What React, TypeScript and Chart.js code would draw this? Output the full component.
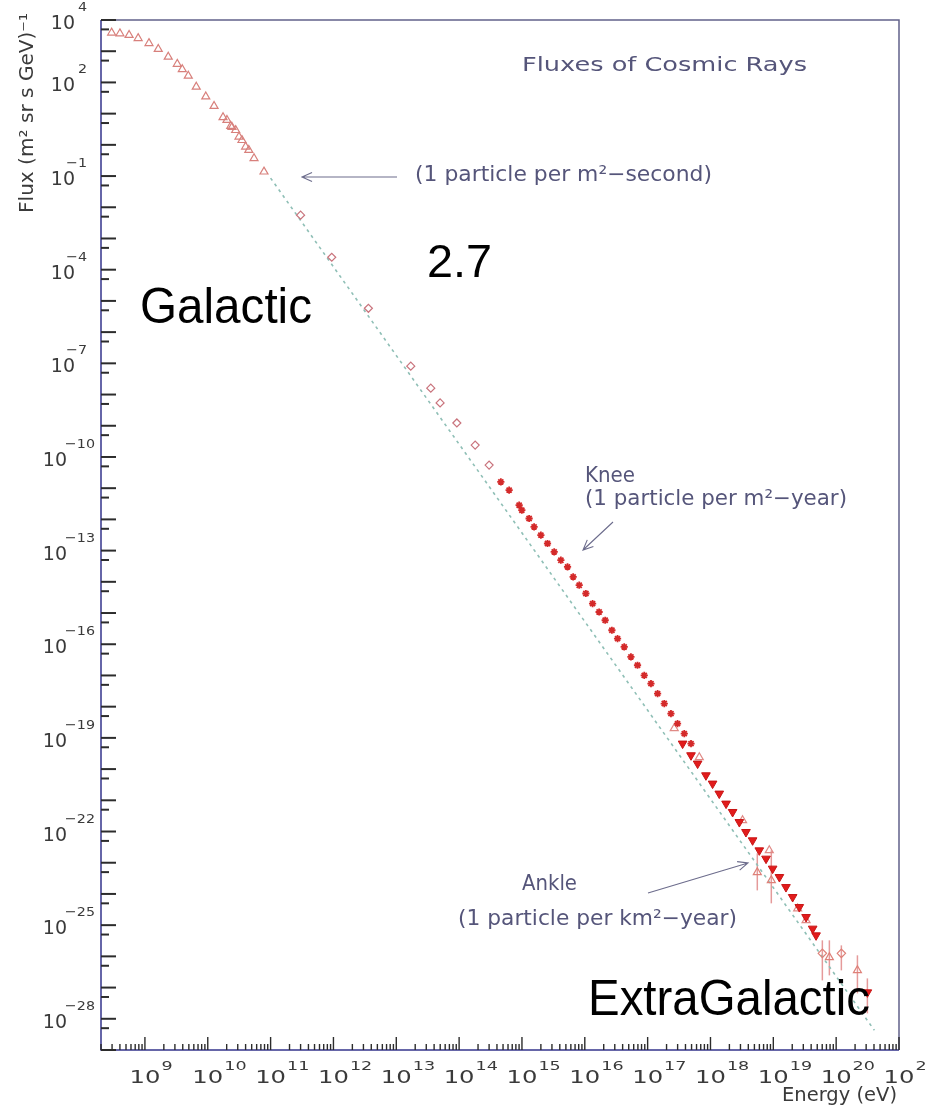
import React, { useEffect, useRef } from "react";
import { Chart, registerables } from "chart.js";

Chart.register(...registerables);

// Axis ranges: energy in eV, flux in (m^2 sr s GeV)^-1
const E_MIN = 2e8;
const E_MAX = 1e21;
const FLUX_MIN = 1e-29;
const FLUX_MAX = 1e4;

// Decades that carry a "10^n" label
const X_LABEL_EXP = [9, 10, 11, 12, 13, 14, 15, 16, 17, 18, 19, 20, 21];
const Y_LABEL_EXP = [4, 2, -1, -4, -7, -10, -13, -16, -19, -22, -25, -28];

// Direct measurements at low energy (open triangles)
const DIRECT_E = [
  2.95e8, 4.0e8, 5.6e8, 7.8e8, 1.16e9, 1.63e9, 2.35e9, 3.27e9, 3.93e9, 4.9e9,
  6.56e9, 9.3e9, 1.26e10, 1.75e10, 2.02e10, 2.32e10, 2.43e10, 2.78e10, 3.14e10,
  3.5e10, 4.0e10, 4.5e10, 5.45e10, 7.85e10,
];
const DIRECT_FLUX = [
  3.9e3, 3.7e3, 3.3e3, 2.6e3, 1.8e3, 1.17e3, 660, 390, 263, 162, 72, 35, 17.4,
  7.6, 6.2, 4.0, 3.7, 2.95, 1.82, 1.41, 0.87, 0.68, 0.37, 0.138,
];

// Balloon / satellite points (open diamonds)
const BALLOON_E = [3.0e11, 9.4e11, 3.6e12, 1.7e13, 3.54e13, 4.98e13, 9.2e13, 1.8e14, 3.0e14];
const BALLOON_FLUX = [5.6e-3, 2.5e-4, 5.8e-6, 8.1e-8, 1.6e-8, 5.4e-9, 1.23e-9, 2.4e-10, 5.5e-11];

// Air-shower array around the knee (stars)
const KNEE_E = [
  4.61e14, 6.25e14, 9.02e14, 9.95e14, 1.3e15, 1.56e15, 2.0e15, 2.55e15, 3.26e15,
  4.16e15, 5.31e15, 6.53e15, 8.15e15, 1.04e16, 1.33e16, 1.69e16, 2.11e16, 2.7e16,
  3.32e16, 4.24e16, 5.42e16, 6.9e16, 8.83e16, 1.13e17, 1.44e17, 1.84e17, 2.35e17,
  2.99e17, 3.83e17, 4.9e17,
];
const KNEE_FLUX = [
  1.59e-11, 8.63e-12, 2.85e-12, 1.97e-12, 1.07e-12, 5.75e-13, 3.12e-13, 1.69e-13,
  9.1e-14, 4.92e-14, 3.01e-14, 1.44e-14, 7.78e-15, 4.22e-15, 2.01e-15, 1.08e-15,
  5.87e-16, 2.81e-16, 1.52e-16, 8.18e-17, 3.92e-17, 2.12e-17, 1.01e-17, 5.5e-18,
  2.63e-18, 1.26e-18, 6.01e-19, 2.87e-19, 1.37e-19, 6.56e-20,
];

// Ultra-high-energy array (filled triangles)
const UHE_E = [
  3.6e17, 4.9e17, 6.24e17, 8.47e17, 1.08e18, 1.38e18, 1.77e18, 2.25e18, 2.88e18,
  3.67e18, 4.68e18, 5.98e18, 7.66e18, 9.75e18, 1.25e19, 1.59e19, 2.03e19, 2.59e19,
  3.32e19, 4.23e19, 4.79e19,
];
const UHE_FLUX = [
  6.56e-20, 2.77e-20, 1.5e-20, 6.32e-21, 3.43e-21, 1.64e-21, 7.83e-22, 4.22e-22,
  2.01e-22, 9.64e-23, 5.22e-23, 2.49e-23, 1.35e-23, 6.47e-24, 3.48e-24, 1.66e-24,
  7.96e-25, 3.8e-25, 1.82e-25, 7.73e-26, 4.71e-26,
];

// Second ultra-high-energy array (open triangles)
const UHE2_E = [2.65e17, 6.64e17, 3.24e18, 8.63e18, 2.44e19, 3.32e19];
const UHE2_FLUX = [2.03e-19, 2.39e-20, 2.29e-22, 2.49e-23, 3.38e-25, 1.43e-25];

// Sparse highest-energy bins with error bars
const TAIL_TRI_E = [5.56e18, 9.29e18, 7.8e19, 2.18e20];
const TAIL_TRI_FLUX = [4.92e-24, 2.73e-24, 9.29e-27, 3.56e-27];
const TAIL_TRI_LO = [1.3e-24, 5.0e-25, 2.46e-27, 6.52e-28];
const TAIL_TRI_HI = [2.0e-23, 2.49e-23, 3.26e-26, 1.08e-26];

const TAIL_DIA_E = [6.03e19, 1.21e20];
const TAIL_DIA_FLUX = [1.25e-26, 1.25e-26];
const TAIL_DIA_LO = [1.7e-27, 3.56e-27];
const TAIL_DIA_HI = [3.26e-26, 2.25e-26];

const TAIL_FILLED_E = [3.14e20];
const TAIL_FILLED_FLUX = [7.02e-28];
const TAIL_FILLED_LO = [1.49e-28];
const TAIL_FILLED_HI = [1.97e-27];

// Single power-law reference line
const REF_LINE_E = [1e11, 4.06e20];
const REF_LINE_FLUX = [8.6e-2, 4.27e-29];

const pts = (xs: number[], ys: number[]) => xs.map((x, i) => ({ x, y: ys[i] }));

const ROOT_FONT = '"DejaVu Sans", sans-serif';
const BIG_FONT = '"Liberation Sans", Arial, sans-serif';
const NOTE_COLOR = "#55557a";
const LABEL_COLOR = "#3a3a3a";

function fitText(
  ctx: CanvasRenderingContext2D,
  text: string,
  x: number,
  y: number,
  size: number,
  family: string,
  width: number | null,
  align: CanvasTextAlign,
  color: string
) {
  ctx.save();
  ctx.font = `${size}px ${family}`;
  ctx.fillStyle = color;
  ctx.textBaseline = "alphabetic";
  ctx.textAlign = align;
  const w = ctx.measureText(text).width;
  const sx = width ? width / w : 1;
  ctx.translate(x, y);
  ctx.scale(sx, 1);
  ctx.fillText(text, 0, 0);
  ctx.restore();
}

function scaledWidth(ctx: CanvasRenderingContext2D, text: string, size: number, sx: number) {
  ctx.font = `${size}px ${ROOT_FONT}`;
  return ctx.measureText(text).width * sx;
}

function drawScaled(
  ctx: CanvasRenderingContext2D,
  text: string,
  x: number,
  y: number,
  size: number,
  sx: number,
  align: CanvasTextAlign,
  color: string
) {
  ctx.save();
  ctx.font = `${size}px ${ROOT_FONT}`;
  ctx.fillStyle = color;
  ctx.textAlign = align;
  ctx.textBaseline = "alphabetic";
  ctx.translate(x, y);
  ctx.scale(sx, 1);
  ctx.fillText(text, 0, 0);
  ctx.restore();
}

function arrow(ctx: CanvasRenderingContext2D, x1: number, y1: number, x2: number, y2: number) {
  const a = Math.atan2(y2 - y1, x2 - x1);
  const len = 11;
  const spread = 0.42;
  ctx.save();
  ctx.strokeStyle = "#6c6c8c";
  ctx.lineWidth = 1.1;
  ctx.beginPath();
  ctx.moveTo(x1, y1);
  ctx.lineTo(x2, y2);
  ctx.moveTo(x2 - len * Math.cos(a - spread), y2 - len * Math.sin(a - spread));
  ctx.lineTo(x2, y2);
  ctx.lineTo(x2 - len * Math.cos(a + spread), y2 - len * Math.sin(a + spread));
  ctx.stroke();
  ctx.restore();
}

const errorGroups = [
  { e: TAIL_TRI_E, lo: TAIL_TRI_LO, hi: TAIL_TRI_HI },
  { e: TAIL_DIA_E, lo: TAIL_DIA_LO, hi: TAIL_DIA_HI },
  { e: TAIL_FILLED_E, lo: TAIL_FILLED_LO, hi: TAIL_FILLED_HI },
];

const overlay = {
  id: "fluxOverlay",
  beforeDatasetsDraw(chart: any) {
    const { ctx, scales } = chart;
    const xs = scales.x;
    const ys = scales.y;
    ctx.save();
    ctx.strokeStyle = "#e59a9a";
    ctx.lineWidth = 1.5;
    for (const g of errorGroups) {
      g.e.forEach((e, i) => {
        const px = xs.getPixelForValue(e);
        ctx.beginPath();
        ctx.moveTo(px, ys.getPixelForValue(g.lo[i]));
        ctx.lineTo(px, ys.getPixelForValue(g.hi[i]));
        ctx.stroke();
      });
    }
    ctx.restore();
  },
  afterDatasetsDraw(chart: any) {
    const { ctx, chartArea, scales } = chart;
    const { left, right, top, bottom } = chartArea;
    const xs = scales.x;
    const ys = scales.y;

    // frame
    ctx.save();
    ctx.lineWidth = 1.5;
    ctx.strokeStyle = "#62628a";
    ctx.beginPath();
    ctx.moveTo(left, top);
    ctx.lineTo(right, top);
    ctx.lineTo(right, bottom);
    ctx.stroke();
    ctx.strokeStyle = "#34348c";
    ctx.beginPath();
    ctx.moveTo(left, top);
    ctx.lineTo(left, bottom);
    ctx.lineTo(right, bottom);
    ctx.stroke();

    // y ticks: every decade plus a half-decade mark
    ctx.strokeStyle = "#2c2c2c";
    ctx.lineWidth = 2;
    for (let n = Math.round(Math.log10(FLUX_MAX)); n >= Math.round(Math.log10(FLUX_MIN)); n--) {
      const major = Math.pow(10, n);
      const minor = 5 * Math.pow(10, n - 1);
      if (major <= FLUX_MAX && major >= FLUX_MIN) {
        const py = ys.getPixelForValue(major);
        ctx.beginPath();
        ctx.moveTo(left, py);
        ctx.lineTo(left + 15, py);
        ctx.stroke();
      }
      if (minor <= FLUX_MAX && minor > FLUX_MIN) {
        const py = ys.getPixelForValue(minor);
        ctx.beginPath();
        ctx.moveTo(left, py);
        ctx.lineTo(left + 8, py);
        ctx.stroke();
      }
    }

    // x ticks: log subdivisions
    ctx.lineWidth = 1.4;
    for (let d = Math.floor(Math.log10(E_MIN)); d <= Math.log10(E_MAX); d++) {
      for (let m = 1; m <= 9; m++) {
        const v = m * Math.pow(10, d);
        if (v < E_MIN * 0.999 || v > E_MAX * 1.001) continue;
        const px = xs.getPixelForValue(v);
        ctx.beginPath();
        ctx.moveTo(px, bottom);
        ctx.lineTo(px, bottom - (m === 1 ? 13 : 6));
        ctx.stroke();
      }
    }
    ctx.restore();

    // x tick labels
    const XSX = 1.35;
    for (const e of X_LABEL_EXP) {
      const px = xs.getPixelForValue(Math.pow(10, e));
      const w10 = scaledWidth(ctx, "10", 18, XSX);
      drawScaled(ctx, "10", px - w10 / 2, bottom + 33, 18, XSX, "left", LABEL_COLOR);
      drawScaled(ctx, String(e), px + w10 / 2 + 1, bottom + 20, 13, XSX, "left", LABEL_COLOR);
    }

    // y tick labels
    for (const e of Y_LABEL_EXP) {
      const py = ys.getPixelForValue(Math.pow(10, e));
      const digits = String(Math.abs(e)).length;
      const sup = e < 0 ? "\u2212" + Math.abs(e) : String(e);
      const r10 = digits === 1 ? left - 26 : left - 34;
      const rSup = digits === 1 ? left - 14 : left - 6;
      drawScaled(ctx, "10", r10, py + 9, 19, 1.0, "right", LABEL_COLOR);
      drawScaled(ctx, sup, rSup, py - 9, 13, 1.1, "right", LABEL_COLOR);
    }

    // axis titles
    fitText(ctx, "Energy (eV)", right - 2, bottom + 51, 20, ROOT_FONT, 115, "right", LABEL_COLOR);
    ctx.save();
    ctx.translate(33, 213);
    ctx.rotate(-Math.PI / 2);
    fitText(ctx, "Flux (m\u00b2 sr s GeV)\u207b\u00b9", 0, 0, 19, ROOT_FONT, 200, "left", LABEL_COLOR);
    ctx.restore();

    // notes
    fitText(ctx, "Fluxes of Cosmic Rays", 522, 71, 20, ROOT_FONT, 285, "left", NOTE_COLOR);
    fitText(ctx, "(1 particle per m\u00b2\u2212second)", 415, 181, 21, ROOT_FONT, 297, "left", NOTE_COLOR);
    arrow(ctx, 397, 177, 302, 177);
    fitText(ctx, "Knee", 585, 482, 21, ROOT_FONT, 50, "left", NOTE_COLOR);
    fitText(ctx, "(1 particle per m\u00b2\u2212year)", 585, 505, 21, ROOT_FONT, 262, "left", NOTE_COLOR);
    arrow(ctx, 613, 522, 583, 550);
    fitText(ctx, "Ankle", 522, 890, 21, ROOT_FONT, 55, "left", NOTE_COLOR);
    fitText(ctx, "(1 particle per km\u00b2\u2212year)", 458, 925, 21, ROOT_FONT, 279, "left", NOTE_COLOR);
    arrow(ctx, 648, 893, 748, 863);

    // region labels
    fitText(ctx, "Galactic", 140, 323, 50, BIG_FONT, 172, "left", "#000");
    fitText(ctx, "2.7", 427, 277, 46, BIG_FONT, 65, "left", "#000");
    fitText(ctx, "ExtraGalactic", 588, 1015, 50, BIG_FONT, 282, "left", "#000");
  },
};

export default function App() {
  const canvasRef = useRef<HTMLCanvasElement | null>(null);

  useEffect(() => {
    const canvas = canvasRef.current;
    if (!canvas) return;
    const chart = new Chart(canvas, {
      type: "scatter",
      data: {
        datasets: [
          {
            label: "E^-2.7 reference",
            data: pts(REF_LINE_E, REF_LINE_FLUX),
            showLine: true,
            borderColor: "#8fbfb6",
            borderWidth: 1.6,
            borderDash: [3, 4],
            pointRadius: 0,
            order: 10,
          },
          {
            label: "Direct",
            data: pts(DIRECT_E, DIRECT_FLUX),
            pointStyle: "triangle",
            pointRadius: 4.6,
            borderColor: "#d8807c",
            backgroundColor: "rgba(0,0,0,0)",
            borderWidth: 1.2,
            order: 5,
          },
          {
            label: "Balloon",
            data: pts(BALLOON_E, BALLOON_FLUX),
            pointStyle: "rectRot",
            pointRadius: 4,
            borderColor: "#c9737c",
            backgroundColor: "rgba(0,0,0,0)",
            borderWidth: 1.2,
            order: 5,
          },
          {
            label: "Knee array",
            data: pts(KNEE_E, KNEE_FLUX),
            pointStyle: "star",
            pointRadius: 3.6,
            borderColor: "#d42a2a",
            backgroundColor: "#d42a2a",
            borderWidth: 1.8,
            order: 4,
          },
          {
            label: "UHE open",
            data: pts(UHE2_E, UHE2_FLUX),
            pointStyle: "triangle",
            pointRadius: 4.6,
            borderColor: "#e08a86",
            backgroundColor: "rgba(0,0,0,0)",
            borderWidth: 1.2,
            order: 4,
          },
          {
            label: "UHE",
            data: pts(UHE_E, UHE_FLUX),
            pointStyle: "triangle",
            rotation: 180,
            pointRadius: 5,
            borderColor: "#c81414",
            backgroundColor: "#e21c1c",
            borderWidth: 1,
            order: 3,
          },
          {
            label: "Tail triangles",
            data: pts(TAIL_TRI_E, TAIL_TRI_FLUX),
            pointStyle: "triangle",
            pointRadius: 4.6,
            borderColor: "#de8078",
            backgroundColor: "rgba(0,0,0,0)",
            borderWidth: 1.2,
            order: 2,
          },
          {
            label: "Tail diamonds",
            data: pts(TAIL_DIA_E, TAIL_DIA_FLUX),
            pointStyle: "rectRot",
            pointRadius: 4.2,
            borderColor: "#de8078",
            backgroundColor: "rgba(0,0,0,0)",
            borderWidth: 1.2,
            order: 2,
          },
          {
            label: "Tail filled",
            data: pts(TAIL_FILLED_E, TAIL_FILLED_FLUX),
            pointStyle: "triangle",
            rotation: 180,
            pointRadius: 5,
            borderColor: "#c81414",
            backgroundColor: "#e21c1c",
            borderWidth: 1,
            order: 2,
          },
        ],
      },
      options: {
        animation: false,
        responsive: false,
        devicePixelRatio: 1,
        layout: { padding: { left: 101, top: 20, right: 27, bottom: 58 } },
        scales: {
          x: { type: "logarithmic", min: E_MIN, max: E_MAX, display: false },
          y: { type: "logarithmic", min: FLUX_MIN, max: FLUX_MAX, display: false },
        },
        plugins: {
          legend: { display: false },
          tooltip: { enabled: false },
        },
      },
      plugins: [overlay],
    });
    return () => chart.destroy();
  }, []);

  return (
    <div style={{ position: "absolute", left: 0, top: 0, width: 926, height: 1108, background: "#fff" }}>
      <canvas ref={canvasRef} width={926} height={1108} style={{ display: "block" }} />
    </div>
  );
}
